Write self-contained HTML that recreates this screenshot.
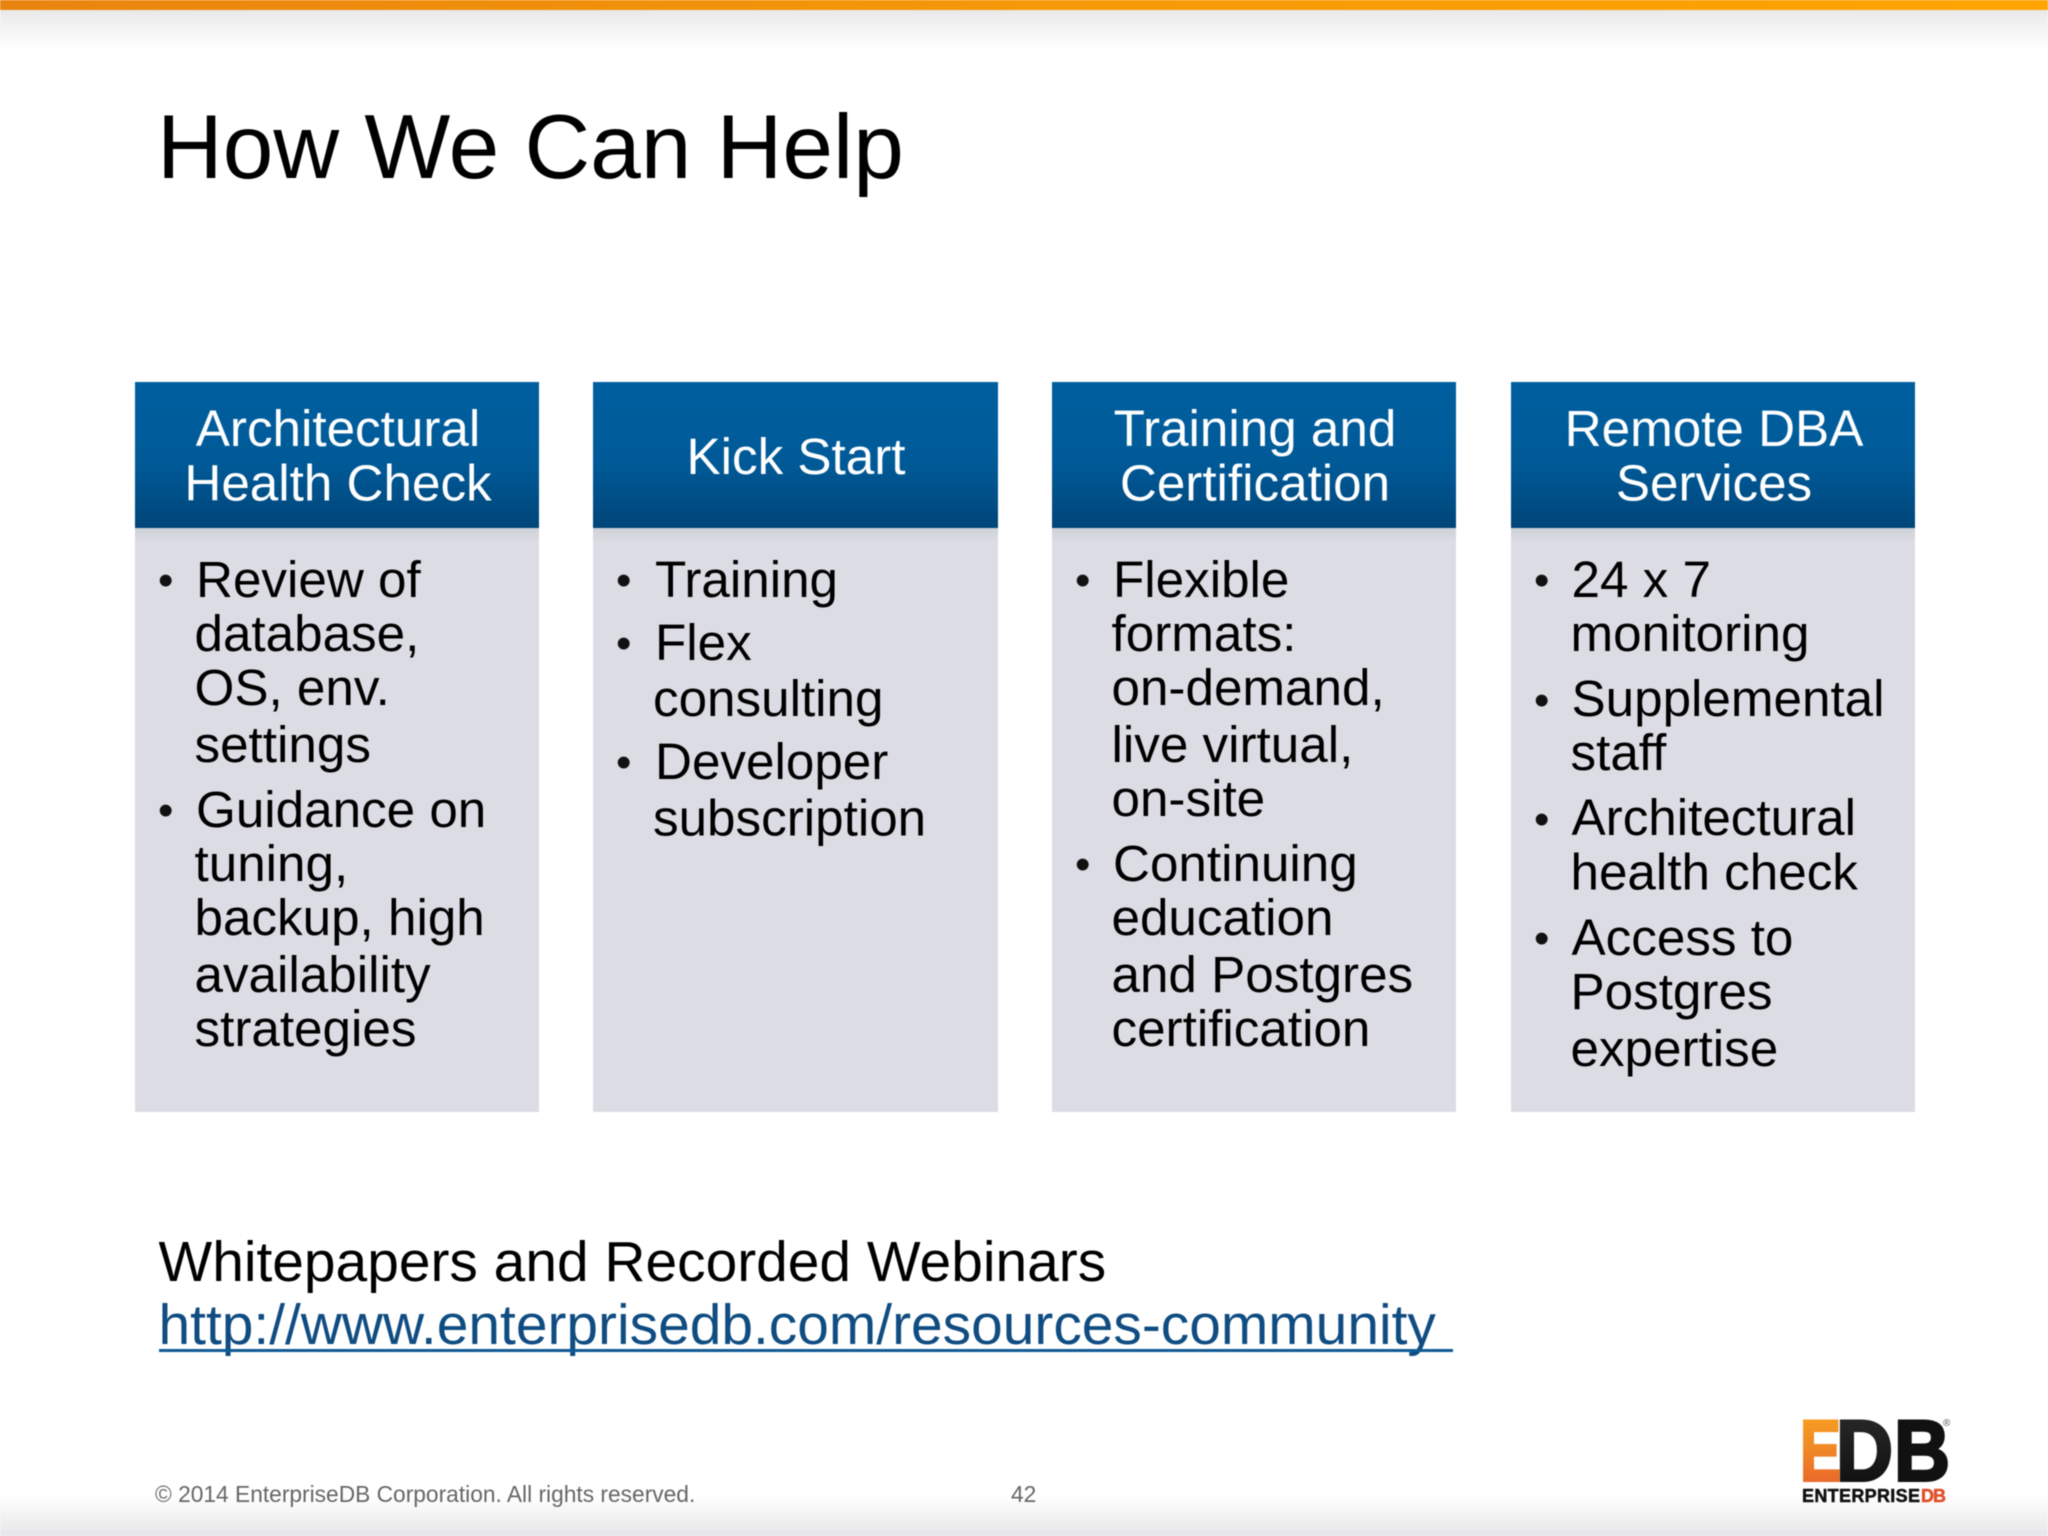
<!DOCTYPE html>
<html><head><meta charset="utf-8"><style>
html,body{margin:0;padding:0;background:#fff;width:2048px;height:1536px;overflow:hidden}
svg{display:block;filter:blur(.5px)}
text{font-family:"Liberation Sans",sans-serif}
.t{font-size:51.2px;fill:#000}
.b{font-size:44px;fill:#111}
.h{font-size:51.2px;fill:#fff;text-anchor:middle}
</style></head><body>
<svg width="2048" height="1536" viewBox="0 0 2048 1536" xmlns="http://www.w3.org/2000/svg">
<defs>
<linearGradient id="bar" x1="0" x2="1" y1="0" y2="0"><stop offset="0" stop-color="#ea8410"/><stop offset=".5" stop-color="#f69808"/><stop offset="1" stop-color="#ffa400"/></linearGradient>
<linearGradient id="tg" x1="0" x2="0" y1="0" y2="1"><stop offset="0" stop-color="#e9e9e9"/><stop offset="1" stop-color="#fff"/></linearGradient>
<linearGradient id="bg" x1="0" x2="0" y1="0" y2="1"><stop offset="0" stop-color="#fff"/><stop offset="1" stop-color="#e6e6e8"/></linearGradient>
<linearGradient id="hd" x1="0" x2="0" y1="0" y2="1"><stop offset="0" stop-color="#005f9f"/><stop offset=".55" stop-color="#005a98"/><stop offset="1" stop-color="#004579"/></linearGradient>
<linearGradient id="sh" x1="0" x2="0" y1="0" y2="1"><stop offset="0" stop-color="#cfd1d9"/><stop offset="1" stop-color="#dcdce4"/></linearGradient>
<linearGradient id="eg" x1="0" x2="0" y1="0" y2="1"><stop offset="0" stop-color="#f8a61f"/><stop offset=".45" stop-color="#f08a26"/><stop offset="1" stop-color="#e8592a"/></linearGradient>
<linearGradient id="dg" x1="0" x2="0" y1="0" y2="1"><stop offset="0" stop-color="#2c2c2e"/><stop offset="1" stop-color="#0c0c0c"/></linearGradient>
</defs>
<rect width="2048" height="1536" fill="#fff"/>
<rect y="10" width="2048" height="38" fill="url(#tg)"/>
<rect width="2048" height="10" fill="url(#bar)"/>
<rect y="1496" width="2048" height="40" fill="url(#bg)"/>

<text x="157" y="178" font-size="91px">How We Can Help</text>

<g>
<rect x="135" y="528" width="404" height="584" fill="#dcdce4"/><rect x="135" y="528" width="404" height="14" fill="url(#sh)"/><rect x="135" y="382" width="404" height="146" fill="url(#hd)"/>
<rect x="593" y="528" width="405" height="584" fill="#dcdce4"/><rect x="593" y="528" width="405" height="14" fill="url(#sh)"/><rect x="593" y="382" width="405" height="146" fill="url(#hd)"/>
<rect x="1052" y="528" width="404" height="584" fill="#dcdce4"/><rect x="1052" y="528" width="404" height="14" fill="url(#sh)"/><rect x="1052" y="382" width="404" height="146" fill="url(#hd)"/>
<rect x="1511" y="528" width="404" height="584" fill="#dcdce4"/><rect x="1511" y="528" width="404" height="14" fill="url(#sh)"/><rect x="1511" y="382" width="404" height="146" fill="url(#hd)"/>
</g>

<text class="h" x="338" y="446">Architectural</text>
<text class="h" x="338" y="500.5">Health Check</text>
<text class="h" x="796" y="474">Kick Start</text>
<text class="h" x="1255" y="446">Training and</text>
<text class="h" x="1255" y="500.5">Certification</text>
<text class="h" x="1714" y="446">Remote DBA</text>
<text class="h" x="1714" y="500.5">Services</text>

<text class="b" x="158" y="595">•</text>
<text class="t" x="196" y="597">Review of</text>
<text class="t" x="194.5" y="651">database,</text>
<text class="t" x="194.5" y="705">OS, env.</text>
<text class="t" x="194.5" y="762">settings</text>
<text class="b" x="158" y="825">•</text>
<text class="t" x="196" y="827">Guidance on</text>
<text class="t" x="194.5" y="881">tuning,</text>
<text class="t" x="194.5" y="935">backup, high</text>
<text class="t" x="194.5" y="992">availability</text>
<text class="t" x="194.5" y="1046">strategies</text>

<text class="b" x="616" y="595">•</text>
<text class="t" x="655" y="597">Training</text>
<text class="b" x="616" y="658">•</text>
<text class="t" x="655" y="660">Flex</text>
<text class="t" x="653" y="716">consulting</text>
<text class="b" x="616" y="777">•</text>
<text class="t" x="655" y="779">Developer</text>
<text class="t" x="653" y="835.5">subscription</text>

<text class="b" x="1075" y="595">•</text>
<text class="t" x="1113" y="597">Flexible</text>
<text class="t" x="1111.5" y="651">formats:</text>
<text class="t" x="1111.5" y="705">on-demand,</text>
<text class="t" x="1111.5" y="762">live virtual,</text>
<text class="t" x="1111.5" y="816">on-site</text>
<text class="b" x="1075" y="879">•</text>
<text class="t" x="1113" y="881">Continuing</text>
<text class="t" x="1111.5" y="935">education</text>
<text class="t" x="1111.5" y="992">and Postgres</text>
<text class="t" x="1111.5" y="1046">certification</text>

<text class="b" x="1534" y="595">•</text>
<text class="t" x="1571.5" y="597">24 x 7</text>
<text class="t" x="1570.5" y="651">monitoring</text>
<text class="b" x="1534" y="715">•</text>
<text class="t" x="1571.5" y="716">Supplemental</text>
<text class="t" x="1570.5" y="770">staff</text>
<text class="b" x="1534" y="834">•</text>
<text class="t" x="1571.5" y="835">Architectural</text>
<text class="t" x="1570.5" y="889.5">health check</text>
<text class="b" x="1534" y="953">•</text>
<text class="t" x="1571.5" y="955">Access to</text>
<text class="t" x="1570.5" y="1009">Postgres</text>
<text class="t" x="1570.5" y="1066">expertise</text>

<text x="158.5" y="1281" font-size="56.9px" fill="#000">Whitepapers and Recorded Webinars</text>
<text x="158.5" y="1344" font-size="56.9px" fill="#0f4c81">http://www.enterprisedb.com/resources-community</text>
<rect x="159" y="1349" width="1294" height="3" fill="#0f5a94"/>

<text x="155" y="1502" font-size="22.75px" fill="#666">© 2014 EnterpriseDB Corporation. All rights reserved.</text>
<text x="1011" y="1502" font-size="22.75px" fill="#666">42</text>

<text x="1800" y="1480.5" font-size="86px" font-weight="700" fill="url(#eg)" stroke="url(#eg)" stroke-width="3" textLength="41" lengthAdjust="spacingAndGlyphs">E</text>
<text x="1836" y="1480.5" font-size="86px" font-weight="700" fill="url(#dg)" stroke="url(#dg)" stroke-width="3" textLength="57" lengthAdjust="spacingAndGlyphs">D</text>
<text x="1894" y="1480.5" font-size="86px" font-weight="700" fill="#111" stroke="#111" stroke-width="3" textLength="56" lengthAdjust="spacingAndGlyphs">B</text>
<text x="1943" y="1426" font-size="10px" fill="#555">®</text>
<text x="1802" y="1502" font-size="18px" font-weight="700" fill="#111" stroke="#111" stroke-width=".5" textLength="118" lengthAdjust="spacing">ENTERPRISE</text>
<text x="1921" y="1502" font-size="18px" font-weight="700" fill="#e0502a" stroke="#e0502a" stroke-width=".5" textLength="25" lengthAdjust="spacing">DB</text>
</svg>
</body></html>
